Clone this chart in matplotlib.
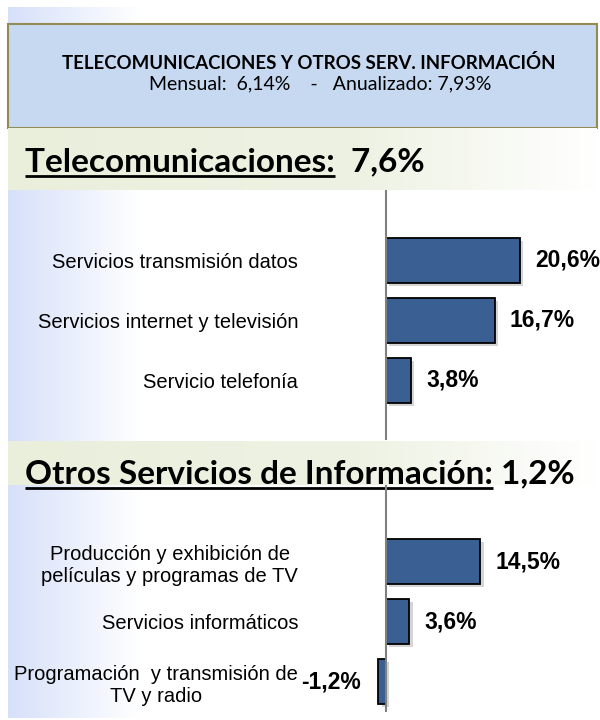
import numpy as np
import matplotlib
matplotlib.use("Agg")
import matplotlib.pyplot as plt
import matplotlib.patheffects as pe
from matplotlib import font_manager
from matplotlib.patches import Rectangle
from matplotlib.colors import LinearSegmentedColormap

# ---- datos ----
titulo = "TELECOMUNICACIONES Y OTROS SERV. INFORMACIÓN"
mensual = 6.14
anualizado = 7.93

secciones = ["Telecomunicaciones:", "Otros Servicios de Información:"]
totales = [7.6, 1.2]
separador = ["  ", " "]

tele_cats = ["Servicios transmisión datos",
             "Servicios internet y televisión",
             "Servicio telefonía"]
tele_vals = [20.6, 16.7, 3.8]

otros_cats = ["Producción y exhibición de\npelículas y programas de TV",
              "Servicios informáticos",
              "Programación  y transmisión de\nTV y radio"]
otros_vals = [14.5, 3.6, -1.2]


def pct(v, nd=1):
    return f"{v:.{nd}f}%".replace(".", ",")


# fuente angosta para las etiquetas si existe
try:
    font_manager.findfont(font_manager.FontProperties(family="Liberation Sans Narrow"),
                          fallback_to_default=False)
    cat_font, cat_size = "Liberation Sans Narrow", 17.5
except ValueError:
    cat_font, cat_size = "Liberation Sans", 14.5

W, H = 600, 720
fig = plt.figure(figsize=(6, 7.2), dpi=100)
fig.patch.set_facecolor("white")

# fondo en coordenadas de pixel
bg = fig.add_axes([0, 0, 1, 1])
bg.axis("off")

grad = np.linspace(0, 1, 256)[None, :]
izq = LinearSegmentedColormap.from_list("izq", ["#D6E0F9", "#FFFFFF"])
bg.imshow(grad, cmap=izq, extent=(8, 140, 718, 7), aspect="auto", zorder=0)

bg.add_patch(Rectangle((8, 24), 589, 104, facecolor="#C6D9F1",
                       edgecolor="#948A54", lw=1.5, zorder=1))

banda = LinearSegmentedColormap.from_list(
    "banda", [(0, "#EAEFDC"), (0.6, "#EEF2E3"), (1, "#FFFFFF")])
bg.imshow(grad, cmap=banda, extent=(8, 597, 190, 128.5), aspect="auto", zorder=2)
bg.imshow(grad, cmap=banda, extent=(8, 597, 485, 441), aspect="auto", zorder=2)
bg.set_xlim(0, W)
bg.set_ylim(H, 0)

bg.text(309, 63, titulo, ha="center", va="center", fontsize=13.4,
        fontweight="bold", family="Lato", zorder=3)
bg.text(320, 84, f"Mensual:  {pct(mensual, 2)}    -   Anualizado: {pct(anualizado, 2)}",
        ha="center", va="center", fontsize=14, family="Lato", zorder=3)

# encabezados de seccion (texto completo + medida de la parte subrayada)
heads = []
for nombre, total, sep, yb in zip(secciones, totales, separador, [171, 483]):
    bg.text(25, yb, nombre + sep + pct(total), ha="left", va="baseline",
            fontsize=24, fontweight="bold", family="Lato", zorder=3)
    m = bg.text(25, yb, nombre, ha="left", va="baseline", fontsize=24,
                fontweight="bold", family="Lato", alpha=0)
    heads.append((m, yb))

# barras
bar_color = "#3A5F93"
x_lo, x_hi = -(386 - 305) / 6.5, (597 - 386) / 6.5


def px_axes(x0, y0, x1, y1):
    return fig.add_axes([x0 / W, 1 - y1 / H, (x1 - x0) / W, (y1 - y0) / H])


def panel(ax, cats, vals, ylim):
    bars = ax.barh(range(len(vals)), vals, height=0.75, color=bar_color,
                   edgecolor="black", lw=1.3, zorder=2)
    for b in bars:
        b.set_path_effects([pe.SimplePatchShadow(offset=(2.5, -2.5),
                                                 shadow_rgbFace="#888888",
                                                 alpha=0.35),
                            pe.Normal()])
    ax.axvline(0, color="#808080", lw=1.5, zorder=3)
    for i, v in enumerate(vals):
        off = 11 if v >= 0 else -12.5
        ax.annotate(pct(v), (v, i), xytext=(off, 0), textcoords="offset points",
                    ha="left" if v >= 0 else "right", va="center",
                    fontsize=16.5, fontweight="bold", family="Liberation Sans")
    ax.set_xlim(x_lo, x_hi)
    ax.set_ylim(*ylim)
    ax.set_yticks(range(len(cats)), cats)
    ax.tick_params(axis="y", length=0, pad=5, labelsize=cat_size)
    for lbl in ax.get_yticklabels():
        lbl.set_multialignment("center")
        lbl.set_family(cat_font)
    ax.set_xticks([])
    for s in ax.spines.values():
        s.set_visible(False)
    ax.patch.set_alpha(0)


ax1 = px_axes(305, 190, 597, 440)
panel(ax1, tele_cats, tele_vals, (2 + 59.5 / 60, -70.5 / 60))
ax2 = px_axes(305, 485, 597, 712)
panel(ax2, otros_cats, otros_vals, (2 + 30.5 / 60, -76.5 / 60))

# subrayado
fig.canvas.draw()
r = fig.canvas.get_renderer()
inv = bg.transData.inverted()
for m, yb in heads:
    bb = m.get_window_extent(r)
    x0 = inv.transform((bb.x0, 0))[0]
    x1 = inv.transform((bb.x1, 0))[0]
    bg.plot([x0, x1], [yb + 5, yb + 5], color="black", lw=2, zorder=3,
            solid_capstyle="butt")

fig.savefig("out.png", dpi=100)
